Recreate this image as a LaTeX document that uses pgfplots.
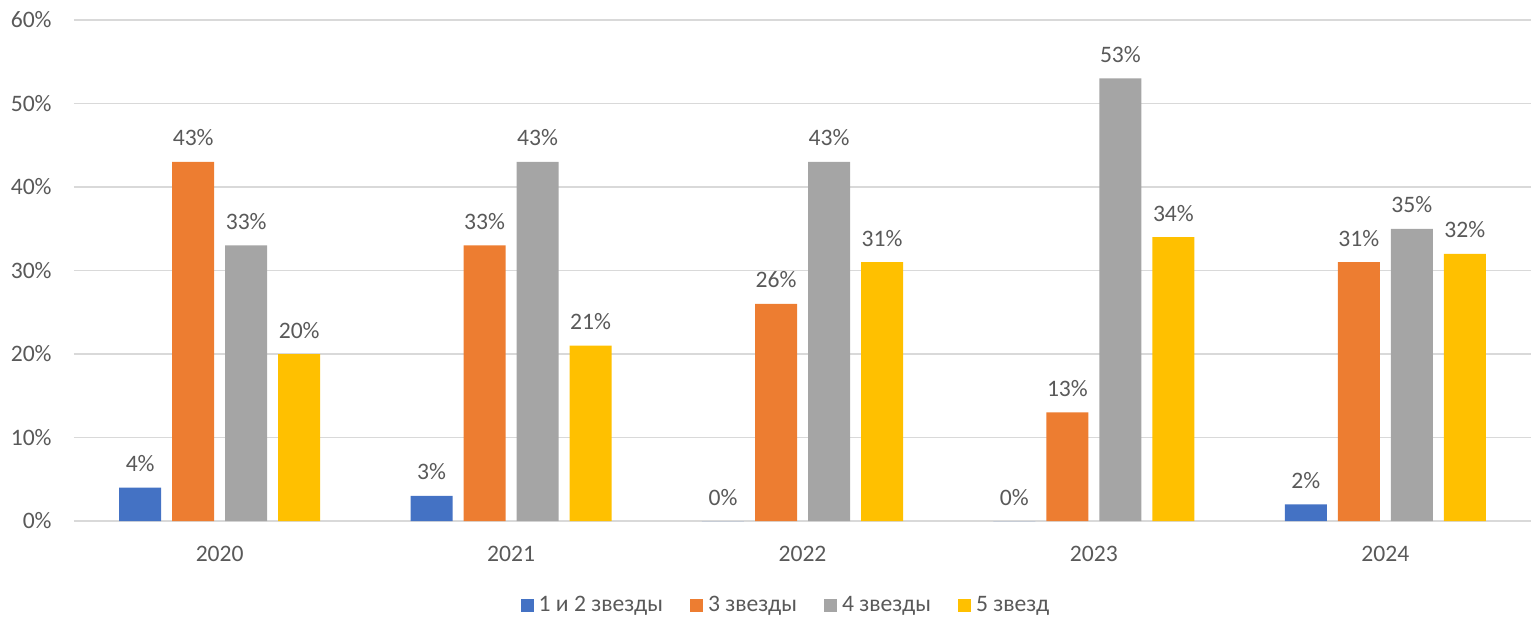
\documentclass[border=0pt]{standalone}
\usepackage{pgfplots}
\pgfplotsset{compat=1.18}
\usepackage{fontspec}
\setmainfont{Carlito}
\definecolor{cblue}{HTML}{4472C4}
\definecolor{corange}{HTML}{ED7D31}
\definecolor{cgray}{HTML}{A5A5A5}
\definecolor{cgold}{HTML}{FFC000}
\definecolor{ctext}{HTML}{595959}
\definecolor{cgrid}{HTML}{D9D9D9}
\begin{document}
\begin{tikzpicture}[font=\fontsize{11.8pt}{14pt}\selectfont, text=ctext]
\useasboundingbox (-37pt,-47.5pt) rectangle (728.5pt,260.5pt);
\begin{axis}[
  at={(0,0)}, anchor=south west,
  scale only axis, width=728.5pt, height=250.5pt,
  ybar, bar width=21pt,
  xmin=-0.5, xmax=4.5, ymin=0, ymax=60,
  xtick={0,1,2,3,4}, xticklabels={2020,2021,2022,2023,2024},
  ytick={0,10,20,30,40,50,60},
  /pgf/number format/assume math mode=true,
  yticklabel={\pgfmathprintnumber{\tick}\%},
  ymajorgrids, grid style={cgrid, line width=0.6pt},
  axis x line*=bottom, axis y line*=left,
  x axis line style={cgrid, line width=0.8pt},
  y axis line style={draw=none},
  xtick style={draw=none}, ytick style={draw=none},
  major tick length=0pt,
  xticklabel style={anchor=base, yshift=-20pt, inner sep=0pt, text=ctext},
  yticklabel style={anchor=east, xshift=-11pt, inner sep=0pt, text=ctext},
  nodes near coords={\pgfmathprintnumber{\pgfplotspointmeta}\%},
  every node near coord/.append style={anchor=base, yshift=8pt, inner sep=0pt, text=ctext, font=\fontsize{11.8pt}{14pt}\selectfont},
  legend style={at={(0.488,-0.168)}, anchor=center, draw=none, fill=none,
    legend columns=-1, column sep=2.5pt,
    /tikz/every even column/.append style={column sep=13.5pt},
    nodes={inner sep=0pt, text=ctext}},
  legend image code/.code={\fill[#1] (0pt,-3.25pt) rectangle (6.5pt,3.25pt);},
]
\addplot[fill=cblue, draw=none, bar shift=-39.75pt] coordinates {(0,4) (1,3) (2,0) (3,0) (4,2)};
\addplot[fill=corange, draw=none, bar shift=-13.25pt] coordinates {(0,43) (1,33) (2,26) (3,13) (4,31)};
\addplot[fill=cgray, draw=none, bar shift=13.25pt] coordinates {(0,33) (1,43) (2,43) (3,53) (4,35)};
\addplot[fill=cgold, draw=none, bar shift=39.75pt] coordinates {(0,20) (1,21) (2,31) (3,34) (4,32)};
\legend{1 и 2 звезды, 3 звезды, 4 звезды, 5 звезд}
\end{axis}
\end{tikzpicture}
\end{document}
